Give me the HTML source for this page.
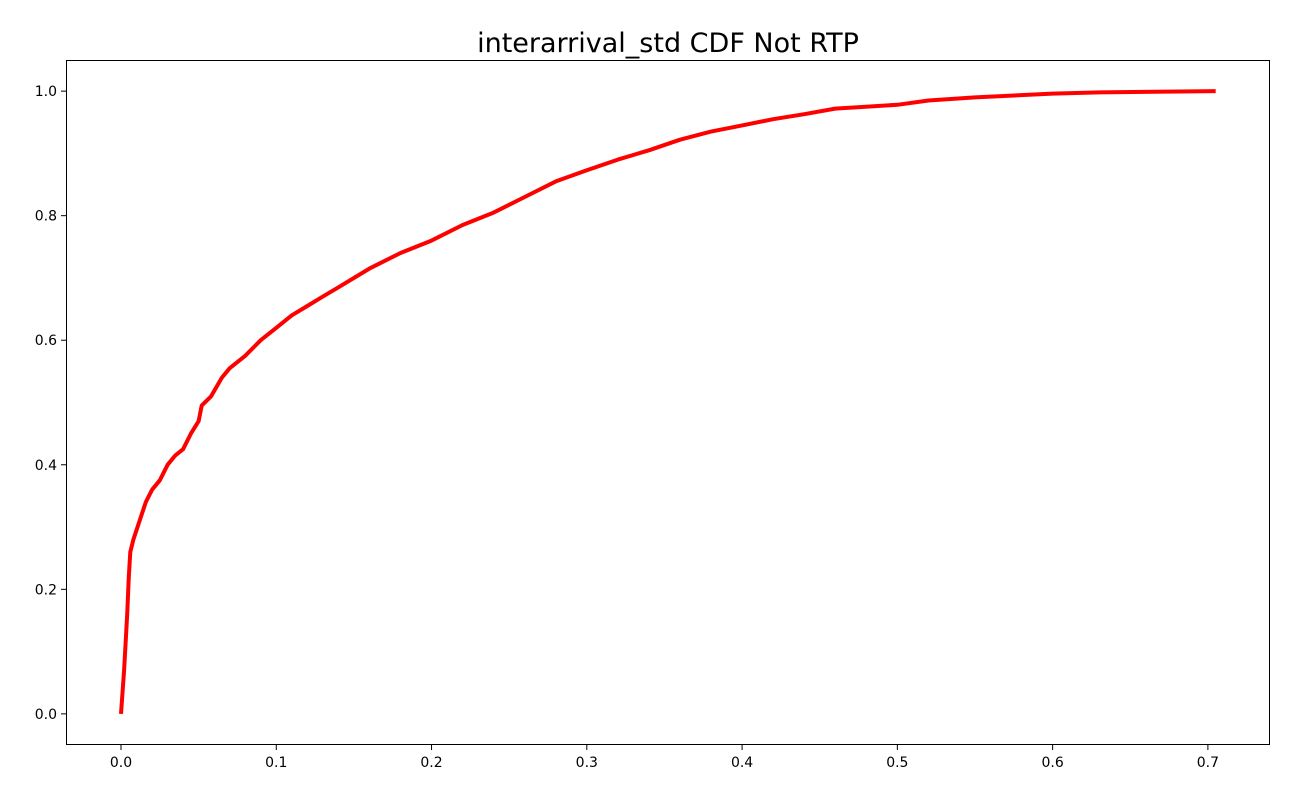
<!DOCTYPE html>
<html><head><meta charset="utf-8">
<style>
html,body{margin:0;padding:0;background:#fff;}
svg{display:block;font-family:"DejaVu Sans","Liberation Sans",sans-serif;}
</style></head>
<body>
<svg id="chart" width="1300" height="800">
  <text x="668" y="52" text-anchor="middle" font-size="27" fill="#000">interarrival_std CDF Not RTP</text>
  <g id="axes"></g>
  <path id="line" fill="none" stroke="#ff0000" stroke-width="4" stroke-linejoin="round"></path>
  <rect x="66.5" y="60.5" width="1203" height="684" fill="none" stroke="#000" stroke-width="1"></rect>
</svg>
<script>
const xValues = [0,0.002,0.004,0.005,0.006,0.008,0.012,0.016,0.02,0.025,0.03,0.035,0.04,0.045,0.05,0.052,0.058,0.065,0.07,0.08,0.09,0.1,0.11,0.12,0.13,0.14,0.16,0.18,0.2,0.22,0.24,0.26,0.28,0.3,0.32,0.34,0.36,0.38,0.4,0.42,0.44,0.46,0.5,0.52,0.55,0.6,0.63,0.705];
const yValues = [0,0.07,0.16,0.22,0.26,0.28,0.31,0.34,0.36,0.375,0.40,0.415,0.425,0.45,0.47,0.495,0.51,0.54,0.555,0.575,0.60,0.62,0.64,0.655,0.67,0.685,0.715,0.74,0.76,0.785,0.805,0.83,0.855,0.873,0.89,0.905,0.922,0.935,0.945,0.955,0.963,0.972,0.978,0.985,0.99,0.996,0.998,1.0];
const xTicks = [0,0.1,0.2,0.3,0.4,0.5,0.6,0.7];
const yTicks = [0,0.2,0.4,0.6,0.8,1.0];

const L=66,R=1270,T=60,B=745;
const xMin=-0.03542,xMax=0.74;
const yMin=-0.05,yMax=1.05;
const sx=v=>L+(v-xMin)/(xMax-xMin)*(R-L);
const sy=v=>B-(v-yMin)/(yMax-yMin)*(B-T);
const NS="http://www.w3.org/2000/svg";
const axes=document.getElementById('axes');

xTicks.forEach(t=>{
  const x=sx(t);
  const ln=document.createElementNS(NS,'line');
  ln.setAttribute('x1',x);ln.setAttribute('x2',x);ln.setAttribute('y1',B);ln.setAttribute('y2',B+5);
  ln.setAttribute('stroke','#000');
  
  
  axes.appendChild(ln);
  const tx=document.createElementNS(NS,'text');
  tx.setAttribute('x',x);tx.setAttribute('y',B+22);tx.setAttribute('text-anchor','middle');tx.setAttribute('font-size','14');
  tx.textContent=t.toFixed(1);
  
  
  axes.appendChild(tx);
});
yTicks.forEach(t=>{
  const y=sy(t);
  const ln=document.createElementNS(NS,'line');
  ln.setAttribute('x1',L-5);ln.setAttribute('x2',L);ln.setAttribute('y1',y);ln.setAttribute('y2',y);
  ln.setAttribute('stroke','#000');
  
  
  axes.appendChild(ln);
  const tx=document.createElementNS(NS,'text');
  tx.setAttribute('x',L-9);tx.setAttribute('y',y+5);tx.setAttribute('text-anchor','end');tx.setAttribute('font-size','14');
  tx.textContent=t.toFixed(1);
  
  
  axes.appendChild(tx);
});
document.getElementById('line').setAttribute('d',
  xValues.map((v,i)=>(i?'L':'M')+sx(v).toFixed(1)+','+sy(yValues[i]).toFixed(1)).join(' '));
</script>
</body></html>
